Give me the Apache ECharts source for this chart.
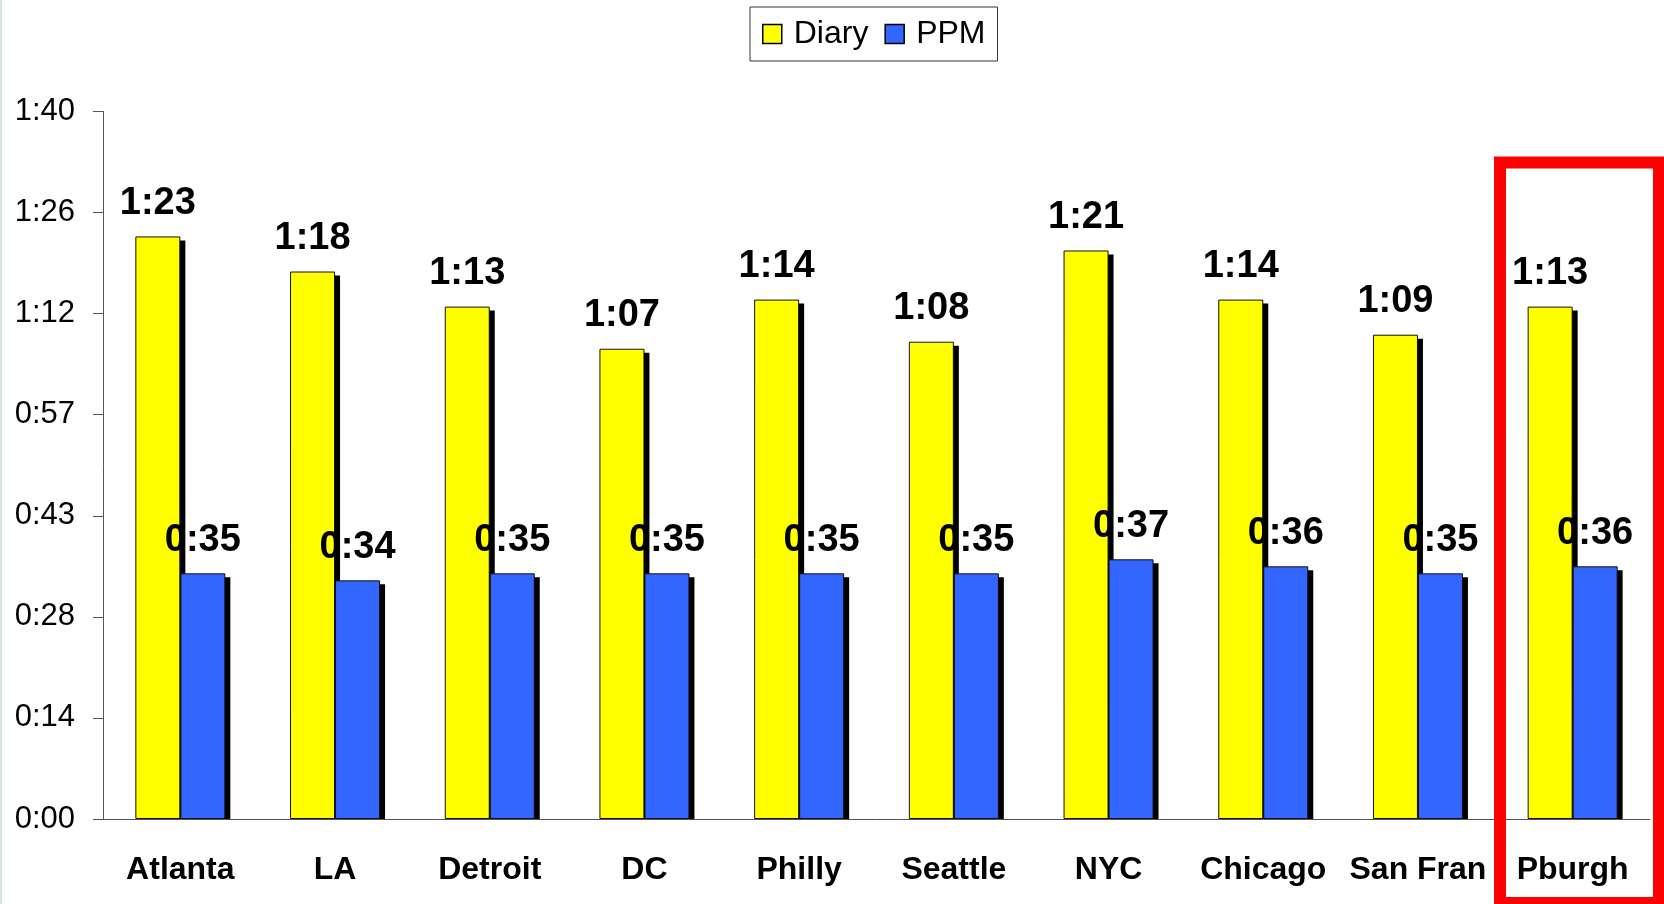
<!DOCTYPE html>
<html>
<head>
<meta charset="utf-8">
<script src="https://cdn.jsdelivr.net/npm/echarts@6/dist/echarts.min.js"></script>
<style>
  html, body { margin: 0; padding: 0; background: #fff; }
  #main { width: 1664px; height: 904px; }
</style>
</head>
<body>
<div id="main"></div>
<script>
// 城市
var cities = ['Atlanta', 'LA', 'Detroit', 'DC', 'Philly', 'Seattle', 'NYC', 'Chicago', 'San Fran', 'Pburgh']
// 数值单位：分钟
var diary = [83, 78, 73, 67, 74, 68, 81, 74, 69, 73]
var ppm = [35, 34, 35, 35, 35, 35, 37, 36, 35, 36]
// y 轴：0:00 ~ 1:40，每格 14.4 分钟 (0.01 天)
var yMax = 100.8
var yStep = 14.4

var font = 'Liberation Sans, Arial, sans-serif'
var BAR_W = 45

// 分钟 -> h:mm（截断秒）
function hmm (v) {
  var m = Math.floor(v + 1e-6)
  var h = Math.floor(m / 60)
  var mm = m % 60
  return h + ':' + (mm < 10 ? '0' + mm : mm)
}

var valueLabel = {
  show: true,
  position: 'top',
  distance: 14,
  color: '#000',
  fontFamily: font,
  fontWeight: 'bold',
  fontSize: 38,
  formatter: function (p) { return hmm(p.value) }
}

// 柱子右下方的黑色阴影（custom 系列，画在柱子下面）
function shadowSeries (values, offset) {
  return {
    type: 'custom',
    silent: true,
    z: 1,
    data: values.map(function (v, i) { return [i, v] }),
    encode: { x: 0, y: 1 },
    renderItem: function (params, api) {
      var top = api.coord([api.value(0), api.value(1)])
      var base = api.coord([api.value(0), 0])
      return {
        type: 'rect',
        shape: { x: top[0] + offset + 5, y: top[1] + 4, width: BAR_W, height: base[1] - top[1] - 4 },
        style: { fill: '#000' }
      }
    }
  }
}

var myChart = echarts.init(document.getElementById('main'))
myChart.setOption({
  backgroundColor: '#fff',
  animation: false,
  legend: {
    left: 750,
    top: 7,
    padding: [11, 12, 11, 12],
    borderColor: '#333',
    borderWidth: 1,
    itemWidth: 19,
    itemHeight: 19,
    itemGap: 16,
    icon: 'rect',
    itemStyle: { borderColor: '#000', borderWidth: 1.5 },
    textStyle: { fontFamily: font, fontSize: 32, lineHeight: 31, color: '#000', padding: [0, 0, 0, 7] },
    data: ['Diary', 'PPM']
  },
  grid: { left: 103, right: 14, top: 111.5, bottom: 85 },
  xAxis: {
    type: 'category',
    data: cities,
    axisLine: { lineStyle: { color: '#555', width: 1 } },
    axisTick: { length: 9, lineStyle: { color: '#555' } },
    axisLabel: { margin: 35, color: '#000', fontFamily: font, fontWeight: 'bold', fontSize: 32, interval: 0 }
  },
  yAxis: {
    type: 'value',
    min: 0,
    max: yMax,
    interval: yStep,
    splitLine: { show: false },
    axisLine: { show: true, lineStyle: { color: '#555', width: 1 } },
    axisTick: { show: true, length: 10, lineStyle: { color: '#555' } },
    axisLabel: { margin: 28, color: '#000', fontFamily: font, fontSize: 31, formatter: hmm }
  },
  series: [
    shadowSeries(diary, -BAR_W),
    shadowSeries(ppm, 0),
    {
      name: 'Diary',
      type: 'bar',
      z: 3,
      barWidth: BAR_W,
      barGap: '0%',
      data: diary,
      itemStyle: { color: '#ffff00', borderColor: '#111', borderWidth: 1 },
      label: valueLabel
    },
    {
      name: 'PPM',
      type: 'bar',
      z: 3,
      barWidth: BAR_W,
      barGap: '0%',
      data: ppm,
      itemStyle: { color: '#3366ff', borderColor: '#111', borderWidth: 1 },
      label: valueLabel
    }
  ],
  graphic: [
    // 左侧细边
    { type: 'rect', left: 0, top: 0, shape: { width: 2, height: 904 }, style: { fill: '#d6e6de' }, silent: true },
    // Pburgh 红框
    {
      type: 'rect',
      shape: { x: 1500, y: 162.5, width: 159, height: 740.5 },
      style: { fill: 'none', stroke: '#ff0000', lineWidth: 12 },
      silent: true,
      z: 100
    }
  ]
})
</script>
</body>
</html>
